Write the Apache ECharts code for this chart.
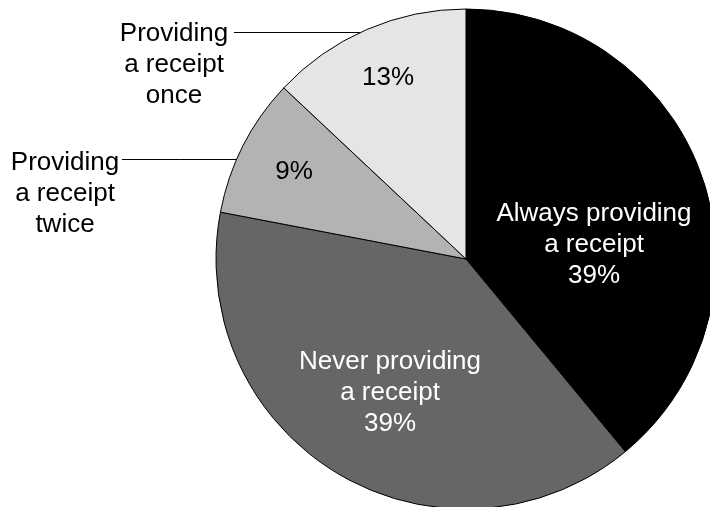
<!DOCTYPE html>
<html lang="en">
<head>
<meta charset="UTF-8">
<title>Receipt pie</title>
<script src="https://cdn.jsdelivr.net/npm/echarts@6/dist/echarts.min.js"></script>
</head>
<body style="margin:0;background:#fff">
<div id="chart" style="width:710px;height:507px"></div>
<script>
var categories = ['Always providing\na receipt', 'Never providing\na receipt', 'Providing\na receipt\ntwice', 'Providing\na receipt\nonce'];
var values = [39, 39, 9, 13];
var colors = ['#000000', '#666666', '#b3b3b3', '#e5e5e5'];
var textColors = ['#ffffff', '#ffffff', '#000000', '#000000'];
var isSmall = [false, false, true, true];

var cx = 466, cy = 259, r = 250;
var font = 'Arial, "Liberation Sans", sans-serif';
// where the labels sit (px)
var insidePos = [[594, 245], [390, 393], [294, 172], [388, 78]];
var outsidePos = {2: [65, 194], 3: [174, 65]};
var leaderY = {2: 159.5, 3: 32.5};
var leaderX0 = {2: 122, 3: 234};

var _chart = echarts.init(document.getElementById('chart'));

var mainData = values.map(function (v, i) {
    return {
        value: v,
        name: categories[i],
        itemStyle: {color: colors[i]},
        label: {color: textColors[i]}
    };
});

var outerData = values.map(function (v, i) {
    return {
        value: v,
        name: categories[i],
        label: {show: isSmall[i]},
        labelLine: {show: isSmall[i]}
    };
});

var option = {
    animation: false,
    series: [
        {
            type: 'pie',
            center: [cx, cy],
            radius: r,
            startAngle: 90,
            silent: true,
            avoidLabelOverlap: false,
            itemStyle: {borderColor: '#000', borderWidth: 1},
            label: {
                position: 'inside',
                fontFamily: font,
                fontSize: 26,
                lineHeight: 31,
                align: 'center',
                formatter: function (p) {
                    if (isSmall[p.dataIndex]) return p.value + '%';
                    return p.name + '\n' + p.value + '%';
                }
            },
            labelLine: {show: false},
            labelLayout: function (p) {
                var pos = insidePos[p.dataIndex];
                return {x: pos[0], y: pos[1], align: 'center', verticalAlign: 'middle'};
            },
            data: mainData
        },
        {
            // transparent copy, only for the outside names + leader lines
            type: 'pie',
            center: [cx, cy],
            radius: r,
            startAngle: 90,
            silent: true,
            avoidLabelOverlap: false,
            itemStyle: {color: 'rgba(0,0,0,0)', borderWidth: 0},
            label: {
                position: 'outside',
                fontFamily: font,
                fontSize: 26,
                lineHeight: 31,
                color: '#000',
                align: 'center',
                formatter: '{b}'
            },
            labelLine: {lineStyle: {color: '#000', width: 1, opacity: 1}},
            labelLayout: function (p) {
                var i = p.dataIndex;
                if (!outsidePos[i]) return {};
                var y = leaderY[i];
                var xEdge = cx - Math.sqrt(r * r - (y - cy) * (y - cy));
                return {
                    x: outsidePos[i][0],
                    y: outsidePos[i][1],
                    align: 'center',
                    verticalAlign: 'middle',
                    labelLinePoints: [[xEdge, y], [(xEdge + leaderX0[i]) / 2, y], [leaderX0[i], y]]
                };
            },
            data: outerData
        }
    ]
};
_chart.setOption(option, true);
</script>
</body>
</html>
